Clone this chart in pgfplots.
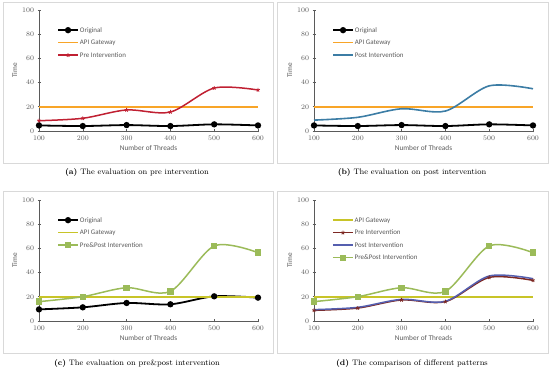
\documentclass[border=0pt]{standalone}
\usepackage{fontspec}
\setsansfont{Carlito}
\usepackage{pgfplots}
\pgfplotsset{compat=1.18}
\definecolor{apiorange}{RGB}{248,165,40}
\definecolor{apiyellow}{RGB}{200,196,40}
\definecolor{prered}{RGB}{192,32,50}
\definecolor{postblue}{RGB}{60,125,165}
\definecolor{ppgreen}{RGB}{155,187,89}
\definecolor{dred}{RGB}{125,40,35}
\definecolor{dblue}{RGB}{85,95,175}
\definecolor{axgray}{RGB}{90,90,90}
\definecolor{boxgray}{RGB}{217,217,217}
\pgfplotsset{
  panel/.style={
    scale only axis, width=219bp, height=121bp,
    xmin=100, xmax=600, ymin=0, ymax=100,
    xtick={100,200,...,600}, ytick={0,20,...,100},
    axis lines=left,
    axis line style={-, draw=axgray, line width=0.8bp},
    tick align=center, major tick length=3bp,
    tick style={axgray, line width=0.6bp},
    ticklabel style={font=\fontsize{6.8}{7}\selectfont, text=axgray},
    xlabel={Number of Threads}, ylabel={Time},
    label style={font=\sffamily\fontsize{7.3}{8}\selectfont, text=axgray},
    xlabel style={yshift=2bp},
    ylabel style={yshift=-2bp},
    legend cell align=left,
    legend style={at={(0.082,0.868)}, anchor=north west, draw=none, fill=none,
      inner sep=0pt, row sep=4.5bp,
      font=\sffamily\fontsize{7}{8}\selectfont, text=axgray,
      nodes={inner sep=1bp, text height=5bp, text depth=1bp}},
    legend image code/.code={
      \draw[mark repeat=2,mark phase=2,#1] plot coordinates {(0bp,0bp) (10bp,0bp) (20bp,0bp)};},
    clip=false,
  },
  orig/.style={black, line width=1.8bp, smooth, mark=*, mark size=2.2bp, mark options={solid}},
}
\begin{document}
\begin{tikzpicture}
\useasboundingbox (0bp,0bp) rectangle (550bp,372bp);
% frames
\draw[boxgray, line width=0.6bp] (3bp,209bp) rectangle (273bp,370bp);
\draw[boxgray, line width=0.6bp] (277bp,209bp) rectangle (548bp,370bp);
\draw[boxgray, line width=0.6bp] (3bp,19bp) rectangle (273bp,181bp);
\draw[boxgray, line width=0.6bp] (277bp,19bp) rectangle (548bp,181bp);
% (a)
\begin{axis}[panel, at={(39bp,241bp)}, anchor=south west]
\addplot[orig] coordinates {(100,4.6) (200,4.1) (300,4.9) (400,4.1) (500,5.5) (600,4.6)};
\addlegendentry{Original}
\addplot[apiorange, line width=1.5bp, forget plot] coordinates {(100,20) (600,20)};
\addlegendimage{apiorange, line width=1.5bp}
\addlegendentry{API Gateway}
\addplot[prered, line width=1.5bp, smooth, mark=star, mark size=2bp, mark options={line width=0.8bp}] coordinates {(100,8.5) (200,10.5) (300,17.4) (400,15.7) (500,35.5) (600,33.9)};
\addlegendentry{Pre Intervention}
\end{axis}
% (b)
\begin{axis}[panel, at={(314bp,241bp)}, anchor=south west]
\addplot[orig] coordinates {(100,4.6) (200,4.1) (300,4.9) (400,4.1) (500,5.5) (600,4.6)};
\addlegendentry{Original}
\addplot[apiorange, line width=1.5bp, forget plot] coordinates {(100,20) (600,20)};
\addlegendimage{apiorange, line width=1.5bp}
\addlegendentry{API Gateway}
\addplot[postblue, line width=1.6bp, smooth] coordinates {(100,9) (200,11.3) (300,18.4) (400,16.5) (500,37.3) (600,34.9)};
\addlegendentry{Post Intervention}
\end{axis}
% (c)
\begin{axis}[panel, at={(39bp,51bp)}, anchor=south west]
\addplot[orig] coordinates {(100,9.6) (200,11.3) (300,14.9) (400,13.8) (500,20.4) (600,19.3)};
\addlegendentry{Original}
\addplot[apiyellow, line width=1.5bp, forget plot] coordinates {(100,20) (600,20)};
\addlegendimage{apiyellow, line width=1.5bp}
\addlegendentry{API Gateway}
\addplot[ppgreen, line width=1.5bp, smooth, mark=square*, mark size=2.4bp, mark options={solid}] coordinates {(100,16) (200,20.1) (300,27.5) (400,24.5) (500,62) (600,56.5)};
\addlegendentry{Pre\&Post Intervention}
\end{axis}
% (d)
\begin{axis}[panel, at={(314bp,51bp)}, anchor=south west]
\addplot[apiyellow, line width=1.5bp, forget plot] coordinates {(100,20) (600,20)};
\addlegendimage{apiyellow, line width=1.5bp}
\addlegendentry{API Gateway}
\addplot[dred, line width=1.5bp, smooth, mark=star, mark size=2bp, mark options={line width=0.8bp}] coordinates {(100,8.8) (200,10.7) (300,17.4) (400,16) (500,36) (600,33.6)};
\addlegendentry{Pre Intervention}
\addplot[dblue, line width=1.5bp, smooth] coordinates {(100,9.4) (200,11.3) (300,17.9) (400,16.3) (500,37.2) (600,35)};
\addlegendentry{Post Intervention}
\addplot[ppgreen, line width=1.5bp, smooth, mark=square*, mark size=2.4bp, mark options={solid}] coordinates {(100,16) (200,20.1) (300,27.5) (400,24.5) (500,62) (600,56.5)};
\addlegendentry{Pre\&Post Intervention}
\end{axis}
% captions
\node[font=\fontsize{8}{9}\selectfont] at (137bp,199bp) {\textbf{(a)} The evaluation on pre intervention};
\node[font=\fontsize{8}{9}\selectfont] at (412bp,199bp) {\textbf{(b)} The evaluation on post intervention};
\node[font=\fontsize{8}{9}\selectfont] at (137bp,8bp) {\textbf{(c)} The evaluation on pre\&post intervention};
\node[font=\fontsize{8}{9}\selectfont] at (412bp,8bp) {\textbf{(d)} The comparison of different patterns};
\end{tikzpicture}
\end{document}
